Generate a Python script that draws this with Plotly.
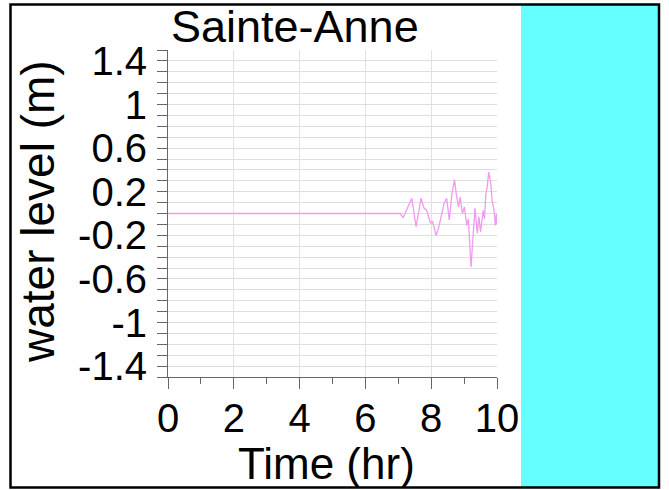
import plotly.graph_objects as go

# Data
time_hr = [0.0, 1.0, 2.0, 3.0, 4.0, 5.0, 6.0, 7.05, 7.15, 7.41, 7.54, 7.69, 7.78, 7.86, 7.98,
           8.04, 8.15, 8.22, 8.39, 8.47, 8.55, 8.63, 8.71, 8.76, 8.83, 8.88, 8.95, 9.01,
           9.08, 9.13, 9.21, 9.28, 9.33, 9.40, 9.45, 9.50, 9.58, 9.62, 9.66, 9.70, 9.75,
           9.81, 9.85, 9.91, 9.95, 9.98, 10.0]
water_level = [0.0, 0.0, 0.0, 0.0, 0.0, 0.0, 0.0, 0.0, -0.036, 0.14, -0.12, 0.14, 0.05, 0.03, -0.09,
               -0.07, -0.20, -0.14, 0.09, 0.14, -0.06, 0.18, 0.31, 0.18, 0.06, 0.15, 0.0, 0.06,
               -0.11, -0.05, -0.49, -0.12, 0.05, -0.18, -0.03, -0.17, 0.03, -0.05, 0.18, 0.24, 0.38,
               0.28, 0.12, 0.03, -0.11, 0.0, -0.10]

y_tick_vals = [1.4, 1.0, 0.6, 0.2, -0.2, -0.6, -1.0, -1.4]
y_tick_text = ["1.4", "1", "0.6", "0.2", "-0.2", "-0.6", "-1", "-1.4"]
x_tick_vals = [0, 2, 4, 6, 8, 10]
x_tick_text = ["0", "2", "4", "6", "8", "10"]

title_text = "Sainte-Anne"
x_title = "Time (hr)"
y_title = "water level (m)"

W, H = 669, 490
L, R, T, B = 168, 497, 50, 377  # plot area in pixels
pw, ph = R - L, B - T

def px(x):
    return (x - L) / pw

def py(y):
    return (B - y) / ph

FONT = "Liberation Sans, Arial, sans-serif"

fig = go.Figure()
fig.add_trace(go.Scatter(x=time_hr, y=water_level, mode="lines",
                         line=dict(color="#f09af0", width=1.3), showlegend=False))

fig.update_layout(
    width=W, height=H,
    margin=dict(l=L, r=W - R, t=T, b=H - B),
    paper_bgcolor="white", plot_bgcolor="white",
    font=dict(family=FONT, color="black"),
    showlegend=False,
)

fig.update_xaxes(
    range=[0, 10], tickmode="array", tickvals=x_tick_vals, ticktext=x_tick_text,
    ticks="outside", ticklen=11, tickcolor="#666", ticklabelstandoff=-5,
    tickfont=dict(size=40, family=FONT, color="black"),
    showline=True, linecolor="#666", linewidth=1,
    showgrid=True, gridcolor="#e2e2e2", gridwidth=1, zeroline=False,
    minor=dict(dtick=1, ticks="outside", ticklen=6, tickcolor="#666", showgrid=False),
)
fig.update_yaxes(
    range=[-1.5, 1.5], tickmode="array", tickvals=y_tick_vals, ticktext=y_tick_text,
    ticks="outside", ticklen=10, tickcolor="#666",
    tickfont=dict(size=40, family=FONT, color="black"), ticklabelstandoff=2,
    showline=True, linecolor="#666", linewidth=1,
    showgrid=True, gridcolor="#dedede", gridwidth=1, zeroline=False,
    minor=dict(tick0=-1.4, dtick=0.1, ticks="outside", ticklen=10, tickcolor="#666",
               showgrid=True, gridcolor="#dedede", gridwidth=1),
)

# cyan side panel and outer frame
fig.add_shape(type="rect", xref="paper", yref="paper",
              x0=px(521), x1=px(658), y0=py(487), y1=py(5),
              fillcolor="#66ffff", line=dict(width=0), layer="below")
fig.add_shape(type="rect", xref="paper", yref="paper",
              x0=px(10.5), x1=px(659), y0=py(487.5), y1=py(4.5),
              fillcolor="rgba(0,0,0,0)", line=dict(color="black", width=2.5))

fig.add_annotation(text=title_text, xref="paper", yref="paper",
                   x=px(295), y=py(26), xanchor="center", yanchor="middle",
                   showarrow=False, font=dict(size=45, family=FONT, color="black"))
fig.add_annotation(text=x_title, xref="paper", yref="paper",
                   x=px(326), y=py(463), xanchor="center", yanchor="middle",
                   showarrow=False, font=dict(size=44, family=FONT, color="black"))
fig.add_annotation(text=y_title, xref="paper", yref="paper",
                   x=px(38), y=py(212), xanchor="center", yanchor="middle", textangle=-90,
                   showarrow=False, font=dict(size=46, family=FONT, color="black"))

fig.write_html("out.html")
